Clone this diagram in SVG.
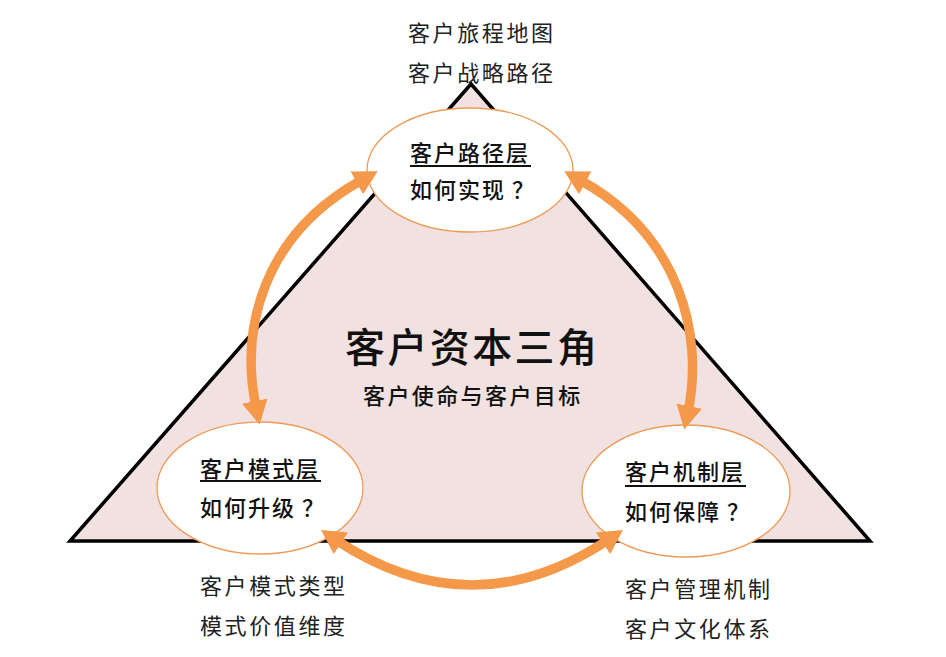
<svg xmlns="http://www.w3.org/2000/svg" width="946" height="657" viewBox="0 0 946 657">
<defs>
<style>
.tri{fill:#f2e1e1;stroke:#000;stroke-width:3.5;stroke-linejoin:miter}
.ell{fill:#fff;stroke:#ee9a55;stroke-width:1.3}
.arc{fill:none;stroke:#f4994a;stroke-width:9.5;marker-start:url(#ah);marker-end:url(#ah)}
text{font-family:"Noto Sans CJK SC","Noto Sans",sans-serif;fill:#111}
.t{font-size:22px;font-weight:500;letter-spacing:2px}
.u{stroke:#111;stroke-width:2}
.lab{font-size:22px;letter-spacing:2.6px;fill:#222}
.main{font-size:40px;font-weight:500;letter-spacing:2.4px}
.sub{font-size:22px;font-weight:500;letter-spacing:2.4px}
</style>
<marker id="ah" viewBox="0 0 24 26" refX="6" refY="13" markerWidth="24" markerHeight="26" markerUnits="userSpaceOnUse" orient="auto-start-reverse">
<path d="M0,0 L24,13 L0,26 z" fill="#f4994a"/>
</marker>
</defs>
<polygon class="tri" points="471,84 70,541 870,541"/>
<g id="center">
<text class="main" x="345" y="362">客户资本三角</text>
<text class="sub" x="363" y="404">客户使命与客户目标</text>
</g>
<g id="top">
<ellipse class="ell" cx="470" cy="170" rx="103" ry="62"/>
<text class="t" x="410" y="161">客户路径层</text>
<line class="u" x1="410" y1="166" x2="531" y2="166"/>
<text class="t" x="410" y="198">如何实现<tspan dx="6">？</tspan></text>
</g>
<g id="left">
<ellipse class="ell" cx="260" cy="488" rx="103" ry="66"/>
<text class="t" x="200" y="477">客户模式层</text>
<line class="u" x1="200" y1="481" x2="321" y2="481"/>
<text class="t" x="200" y="516">如何升级<tspan dx="6">？</tspan></text>
</g>
<g id="right">
<ellipse class="ell" cx="686" cy="491" rx="104" ry="66"/>
<text class="t" x="625" y="480">客户机制层</text>
<line class="u" x1="625" y1="486" x2="746" y2="486"/>
<text class="t" x="625" y="520">如何保障<tspan dx="6">？</tspan></text>
</g>
<g id="labels">
<text class="lab" x="408" y="41">客户旅程地图</text>
<text class="lab" x="408" y="81">客户战略路径</text>
<text class="lab" x="200" y="594">客户模式类型</text>
<text class="lab" x="200" y="634">模式价值维度</text>
<text class="lab" x="625" y="597">客户管理机制</text>
<text class="lab" x="625" y="637">客户文化体系</text>
</g>
<g id="connectors">
<path class="arc" d="M256,407 C240,330 262,235 362,180"/>
<path class="arc" d="M688,412 C704,335 680,235 580,180"/>
<path class="arc" d="M336,540 Q472,630 608,540"/>
</g>
</svg>
